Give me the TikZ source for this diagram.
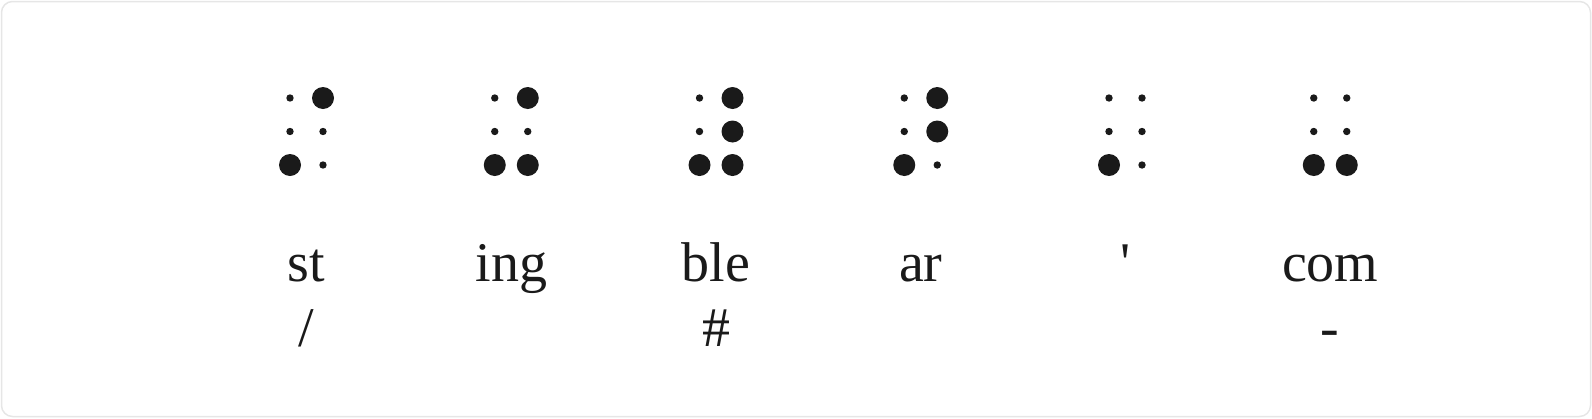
\documentclass[tikz,border=0pt]{standalone}
\usepackage{fontspec}
\newfontfamily\lab{Liberation Serif}
\definecolor{ink}{HTML}{1A1A1A}
\definecolor{frame}{HTML}{E6E6E6}
\tikzset{
  big/.style={circle,fill=ink,inner sep=0pt,minimum size=22pt},
  small/.style={circle,fill=ink,inner sep=0pt,minimum size=7.4pt},
  word/.style={anchor=base,text=ink,font=\lab\fontsize{56}{60}\selectfont,inner sep=0pt},
}
\newcommand{\bcell}[8]{% name, cx, d1..d6 (b/s)
  \node[#3] (#1-1) at (#2-16.5,98) {};
  \node[#4] (#1-2) at (#2-16.5,131.5) {};
  \node[#5] (#1-3) at (#2-16.5,165) {};
  \node[#6] (#1-4) at (#2+16.5,98) {};
  \node[#7] (#1-5) at (#2+16.5,131.5) {};
  \node[#8] (#1-6) at (#2+16.5,165) {};
}
\begin{document}
\begin{tikzpicture}[x=1pt,y=-1pt]
\useasboundingbox (0,0) rectangle (1592,418);
\draw[frame,line width=1.5pt,rounded corners=11pt] (1.5,1.5) rectangle (1590.5,416.5);
\bcell{c1}{306.5}{small}{small}{big}{big}{small}{small}
\bcell{c2}{511.25}{small}{small}{big}{big}{small}{big}
\bcell{c3}{716}{small}{small}{big}{big}{big}{big}
\bcell{c4}{920.75}{small}{small}{big}{big}{big}{small}
\bcell{c5}{1125.5}{small}{small}{big}{small}{small}{small}
\bcell{c6}{1330.25}{small}{small}{big}{small}{small}{big}
\node[word] (w1) at (306.5,281) {st};
\node[word] (w2) at (511.25,281) {ing};
\node[word] (w3) at (716,281) {ble};
\node[word] (w4) at (920.75,281) {ar};
\node[word] (w5) at (1125.5,281) {\symbol{"27}};
\node[word] (w6) at (1330.25,281) {com};
\node[word] (s1) at (306.5,346) {/};
\node[word] (s3) at (716,346) {\#};
\node[word] (s6) at (1330.25,346) {-};
\end{tikzpicture}
\end{document}
